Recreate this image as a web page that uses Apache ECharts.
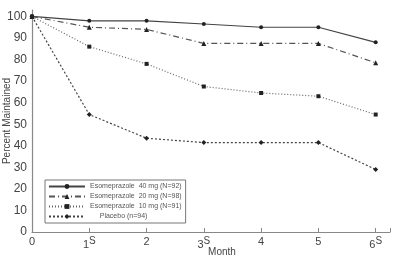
<!DOCTYPE html>
<html>
<head>
<meta charset="utf-8">
<script src="https://cdn.jsdelivr.net/npm/echarts@6/dist/echarts.min.js"></script>
<style>
  html, body { margin: 0; padding: 0; background: #fff; }
  #chart { width: 400px; height: 259px; }
</style>
</head>
<body>
<div id="chart"></div>
<script>
// months and the superscript marks under the x axis
var months = [0, 1, 2, 3, 4, 5, 6];
var monthSup = ['', 'S', '', 'S', '', '', 'S'];

var names = [
  'Esomeprazole  40 mg (N=92)',
  'Esomeprazole  20 mg (N=98)',
  'Esomeprazole  10 mg (N=91)',
  '     Placebo (n=94)'
];
var eso40 = [100, 98, 98, 96.5, 95, 95, 88];
var eso20 = [100, 95, 94, 87.5, 87.5, 87.5, 78.5];
var eso10 = [100, 86, 78, 67.5, 64.5, 63, 54.5];
var placebo = [100, 54.5, 43.5, 41.5, 41.5, 41.5, 29];

function pairs(vals) {
  return months.map(function (m, i) { return [m, vals[i]]; });
}

var chart = echarts.init(document.getElementById('chart'));

var option = {
  animation: false,
  grid: { left: 32, right: 10, top: 10, bottom: 27, outerBoundsMode: 'none' },
  xAxis: {
    type: 'value',
    min: 0, max: 6.25, interval: 1,
    splitLine: { show: false },
    axisLine: { lineStyle: { color: '#888', width: 1.2 } },
    axisTick: { inside: true, length: 4, lineStyle: { color: '#888' } },
    axisLabel: {
      color: '#444', fontSize: 11, margin: 4,
      formatter: function (v) {
        var i = months.indexOf(v);
        if (i < 0) return '';
        return monthSup[i] ? '{n|' + v + '}{s|' + monthSup[i] + '}' : '{n|' + v + '}';
      },
      rich: {
        n: { fontSize: 11, color: '#444' },
        s: { fontSize: 10, color: '#444', padding: [0, 0, 8, 0] }
      }
    },
    name: 'Month',
    nameLocation: 'middle',
    nameMoveOverlap: false,
    nameGap: 15,
    nameTextStyle: { color: '#444', fontSize: 10, padding: [0, 0, 0, 22] }
  },
  yAxis: {
    type: 'value',
    min: 0, max: 103, interval: 10,
    splitLine: { show: false },
    axisLine: { show: true, lineStyle: { color: '#888', width: 1.2 } },
    axisTick: { show: false },
    axisLabel: {
      color: '#444', fontSize: 12, margin: 5,
      formatter: function (v) { return v > 100 ? '' : v; }
    },
    name: 'Percent Maintained',
    nameLocation: 'middle',
    nameMoveOverlap: false,
    nameGap: 20,
    nameTextStyle: { color: '#444', fontSize: 10 }
  },
  legend: {
    orient: 'vertical',
    left: 45, top: 180,
    itemWidth: 36, itemHeight: 6, itemGap: 3,
    padding: [3, 4, 3, 3],
    borderColor: '#777', borderWidth: 1,
    textStyle: { fontSize: 7, color: '#555', fontFamily: 'Liberation Sans' },
    data: names
  },
  series: [
    {
      name: names[0], type: 'line', data: pairs(eso40),
      symbol: 'circle', symbolSize: 4,
      lineStyle: { color: '#444', width: 1.2, type: 'solid' },
      itemStyle: { color: '#222' }
    },
    {
      name: names[1], type: 'line', data: pairs(eso20),
      symbol: 'triangle', symbolSize: 5,
      lineStyle: { color: '#555', width: 1.2, type: [6, 3, 1, 3] },
      itemStyle: { color: '#222' }
    },
    {
      name: names[2], type: 'line', data: pairs(eso10),
      symbol: 'rect', symbolSize: 4,
      lineStyle: { color: '#666', width: 1.2, type: [1, 2] },
      itemStyle: { color: '#222' }
    },
    {
      name: names[3], type: 'line', data: pairs(placebo),
      symbol: 'diamond', symbolSize: 5,
      lineStyle: { color: '#444', width: 1.2, type: [2, 2] },
      itemStyle: { color: '#222' }
    }
  ]
};

chart.setOption(option);
</script>
</body>
</html>
